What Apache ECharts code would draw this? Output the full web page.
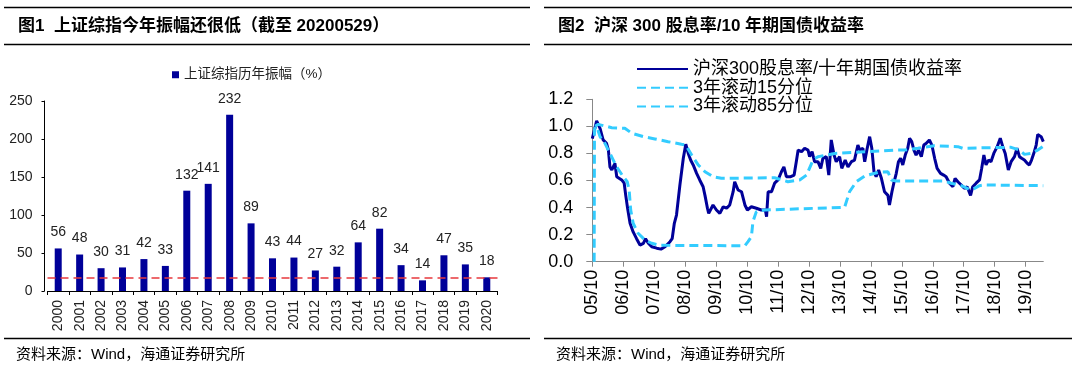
<!DOCTYPE html>
<html><head><meta charset="utf-8">
<script src="https://cdn.jsdelivr.net/npm/echarts@6/dist/echarts.min.js"></script>
<style>html,body{margin:0;padding:0;background:#fff}#c{width:1080px;height:371px}</style>
</head><body><div id="c"></div>
<script>
// ---------- Figure 1 data ----------
const barYears = ['2000','2001','2002','2003','2004','2005','2006','2007','2008','2009','2010','2011','2012','2013','2014','2015','2016','2017','2018','2019','2020'];
const barValues = [56,48,30,31,42,33,132,141,232,89,43,44,27,32,64,82,34,14,47,35,18];
const barSeriesName = '上证综指历年振幅（%）';
const currentLevel = barValues[barValues.length - 1];

// ---------- Figure 2 data (x = decimal year) ----------
const xTickLabels = ['05/10','06/10','07/10','08/10','09/10','10/10','11/10','12/10','13/10','14/10','15/10','16/10','17/10','18/10','19/10'];
const xTickValues = [2005.75,2006.75,2007.75,2008.75,2009.75,2010.75,2011.75,2012.75,2013.75,2014.75,2015.75,2016.75,2017.75,2018.75,2019.75];
const ratioName = '沪深300股息率/十年期国债收益率';
const p15Name = '3年滚动15分位';
const p85Name = '3年滚动85分位';

const ratioDates = [2005.75,2005.89,2006.00,2006.10,2006.21,2006.27,2006.32,2006.38,2006.48,2006.54,2006.59,2006.70,2006.78,2006.83,2006.89,2006.97,2007.07,2007.18,2007.29,2007.40,2007.47,2007.56,2007.67,2007.83,2007.97,2008.10,2008.26,2008.33,2008.40,2008.47,2008.58,2008.69,2008.77,2008.85,2008.93,2009.01,2009.12,2009.22,2009.33,2009.39,2009.47,2009.51,2009.65,2009.76,2009.87,2009.98,2010.09,2010.19,2010.30,2010.35,2010.46,2010.57,2010.68,2010.76,2010.89,2011.05,2011.21,2011.34,2011.38,2011.43,2011.54,2011.64,2011.75,2011.86,2011.94,2012.02,2012.16,2012.27,2012.34,2012.40,2012.51,2012.61,2012.72,2012.77,2012.85,2012.93,2013.04,2013.13,2013.20,2013.31,2013.39,2013.47,2013.56,2013.63,2013.74,2013.81,2013.92,2014.01,2014.12,2014.22,2014.33,2014.39,2014.49,2014.55,2014.62,2014.71,2014.78,2014.85,2014.92,2015.00,2015.09,2015.19,2015.30,2015.35,2015.43,2015.49,2015.57,2015.64,2015.71,2015.78,2015.86,2015.94,2016.00,2016.07,2016.14,2016.21,2016.29,2016.38,2016.46,2016.54,2016.64,2016.72,2016.81,2016.89,2017.00,2017.10,2017.18,2017.29,2017.40,2017.47,2017.56,2017.67,2017.77,2017.86,2017.97,2018.04,2018.15,2018.26,2018.33,2018.40,2018.47,2018.55,2018.63,2018.72,2018.83,2018.93,2019.01,2019.09,2019.19,2019.28,2019.39,2019.47,2019.55,2019.62,2019.71,2019.80,2019.87,2019.94,2020.03,2020.09,2020.14,2020.25,2020.32];
const ratioValues = [0.91,1.04,0.986,0.90,0.875,0.825,0.70,0.678,0.727,0.628,0.64,0.604,0.58,0.49,0.395,0.284,0.22,0.17,0.123,0.136,0.17,0.136,0.11,0.10,0.093,0.11,0.148,0.17,0.284,0.345,0.567,0.764,0.868,0.80,0.75,0.715,0.653,0.604,0.554,0.49,0.395,0.357,0.419,0.382,0.357,0.406,0.395,0.419,0.517,0.591,0.53,0.517,0.419,0.382,0.406,0.395,0.382,0.382,0.333,0.517,0.517,0.58,0.604,0.665,0.70,0.628,0.628,0.64,0.739,0.825,0.813,0.838,0.825,0.776,0.813,0.739,0.739,0.69,0.764,0.776,0.64,0.90,0.788,0.739,0.776,0.69,0.751,0.70,0.739,0.751,0.862,0.825,0.838,0.739,0.825,0.924,0.838,0.665,0.628,0.678,0.616,0.517,0.49,0.419,0.517,0.58,0.653,0.739,0.764,0.715,0.788,0.838,0.912,0.887,0.825,0.788,0.825,0.776,0.862,0.875,0.90,0.862,0.764,0.69,0.653,0.64,0.628,0.58,0.554,0.616,0.591,0.567,0.542,0.554,0.49,0.554,0.58,0.604,0.69,0.788,0.715,0.751,0.739,0.80,0.85,0.912,0.85,0.80,0.678,0.739,0.776,0.838,0.776,0.764,0.751,0.727,0.715,0.751,0.813,0.862,0.94,0.924,0.887];

const p15Dates = [2005.81,2005.82,2005.89,2006.00,2006.16,2006.32,2006.54,2006.75,2006.88,2006.94,2006.99,2007.07,2007.23,2007.45,2007.67,2007.93,2010.68,2010.78,2010.89,2010.94,2011.05,2011.32,2013.90,2014.06,2014.28,2014.55,2014.98,2015.30,2015.41,2015.57,2017.13,2017.34,2017.67,2017.93,2018.04,2018.26,2018.42,2020.32];
const p15Values = [0.0,0.98,1.0,0.924,0.875,0.80,0.70,0.628,0.591,0.53,0.382,0.284,0.21,0.16,0.136,0.121,0.118,0.148,0.185,0.296,0.37,0.382,0.402,0.517,0.591,0.633,0.66,0.665,0.604,0.596,0.596,0.58,0.562,0.535,0.535,0.562,0.567,0.562];

const p85Dates = [2005.84,2005.94,2006.00,2006.38,2006.80,2007.02,2007.40,2007.77,2008.20,2008.63,2008.77,2008.96,2009.17,2009.39,2009.65,2009.92,2010.68,2011.64,2012.07,2012.45,2012.67,2012.88,2013.04,2013.58,2014.65,2015.51,2015.84,2016.27,2016.80,2017.56,2017.72,2018.42,2019.28,2019.55,2019.71,2019.92,2020.14,2020.30];
const p85Values = [1.0,1.015,1.01,0.99,0.986,0.95,0.924,0.907,0.887,0.868,0.862,0.788,0.715,0.665,0.628,0.616,0.618,0.62,0.591,0.604,0.64,0.751,0.776,0.80,0.813,0.825,0.825,0.838,0.857,0.85,0.838,0.842,0.845,0.825,0.793,0.80,0.825,0.85];

const title1 = '图1  上证综指今年振幅还很低（截至 20200529）';
const title2 = '图2  沪深 300 股息率/10 年期国债收益率';
const sourceText = '资料来源：Wind，海通证券研究所';

// ---------- chart ----------
const FONT = '"Liberation Sans", Arial, "Noto Sans CJK SC", sans-serif';
const pairs = (xs, ys) => xs.map((x, i) => [x, ys[i]]);
const chart = echarts.init(document.getElementById('c'));

function hline(x1, x2, y) {
  return { type: 'line', shape: { x1: x1, y1: y, x2: x2, y2: y }, style: { stroke: '#000', lineWidth: 1.3 }, silent: true };
}
function txt(x, y, text, font) {
  return { type: 'text', x: x, y: y, style: { text: text, font: font, fill: '#000', verticalAlign: 'middle' }, silent: true };
}

const option = {
  animation: false,
  backgroundColor: '#fff',
  textStyle: { fontFamily: FONT },
  graphic: [
    hline(4, 530, 7.5), hline(4, 530, 44.5), hline(4, 530, 338.5),
    hline(544, 1072, 7.5), hline(544, 1072, 44.5), hline(544, 1072, 338.5),
    txt(18, 26.5, title1, 'bold 17px ' + FONT),
    txt(558, 26.5, title2, 'bold 17px ' + FONT),
    txt(16, 355, sourceText, '15px ' + FONT),
    txt(556, 355, sourceText, '15px ' + FONT)
  ],
  legend: [
    {
      data: [barSeriesName], left: 172, top: 68, padding: 0,
      icon: 'rect', itemWidth: 7, itemHeight: 7,
      textStyle: { fontSize: 13.5, color: '#222', fontFamily: FONT }
    },
    {
      data: [ratioName, p15Name, p85Name], orient: 'vertical', left: 636, top: 60, padding: 0,
      itemWidth: 51, itemHeight: 14, itemGap: 0.7,
      itemStyle: { opacity: 0 },
      textStyle: { fontSize: 18, lineHeight: 18, color: '#000', fontFamily: FONT }
    }
  ],
  grid: [
    { left: 47.5, top: 101, width: 450, height: 190, outerBoundsMode: 'none' },
    { left: 592.3, top: 99.3, width: 451, height: 162.4, outerBoundsMode: 'none' }
  ],
  xAxis: [
    {
      gridIndex: 0, type: 'category', data: barYears,
      axisLine: { lineStyle: { color: '#000', width: 1 } },
      axisTick: { show: true, length: 4, lineStyle: { color: '#000' } },
      axisLabel: { rotate: 90, interval: 0, margin: 9, fontSize: 14, color: '#222' }
    },
    {
      gridIndex: 1, type: 'value', min: 2005.75, max: 2020.32,
      splitLine: { show: false },
      axisLine: { onZero: false, lineStyle: { color: '#888', width: 1 } },
      axisTick: { show: true, length: 5, customValues: xTickValues, lineStyle: { color: '#888' } },
      axisLabel: {
        rotate: 90, margin: 8, fontSize: 18, color: '#000', customValues: xTickValues,
        formatter: v => xTickLabels[Math.round(v - xTickValues[0])]
      }
    }
  ],
  yAxis: [
    {
      gridIndex: 0, type: 'value', min: 0, max: 250, interval: 50, offset: 3,
      splitLine: { show: false },
      axisLine: { show: true, lineStyle: { color: '#000', width: 1 } },
      axisTick: { show: true, length: 3, lineStyle: { color: '#000' } },
      axisLabel: { fontSize: 14, margin: 12, color: '#222' }
    },
    {
      gridIndex: 1, type: 'value', min: 0, max: 1.2, interval: 0.2,
      splitLine: { show: false },
      axisLine: { show: true, lineStyle: { color: '#888', width: 1 } },
      axisTick: { show: true, length: 6, lineStyle: { color: '#888' } },
      axisLabel: { fontSize: 18, margin: 19, color: '#000', formatter: v => v.toFixed(1) }
    }
  ],
  series: [
    {
      name: barSeriesName, type: 'bar', xAxisIndex: 0, yAxisIndex: 0, data: barValues,
      barWidth: 7, itemStyle: { color: '#000099' },
      label: { show: true, position: 'top', distance: 9, fontSize: 14, color: '#222' },
      markLine: {
        silent: true, symbol: ['none', 'none'], label: { show: false },
        lineStyle: { color: '#e8383d', type: [8, 5], width: 1.5 },
        data: [{ yAxis: currentLevel }]
      }
    },
    {
      name: ratioName, type: 'line', xAxisIndex: 1, yAxisIndex: 1,
      data: pairs(ratioDates, ratioValues), symbol: 'none', showSymbol: false,
      lineStyle: { color: '#000099', width: 3 }, itemStyle: { color: '#000099' }
    },
    {
      name: p15Name, type: 'line', xAxisIndex: 1, yAxisIndex: 1,
      data: pairs(p15Dates, p15Values), symbol: 'none', showSymbol: false,
      lineStyle: { color: '#33CCFF', width: 3, type: [9, 5] }, itemStyle: { color: '#33CCFF' }
    },
    {
      name: p85Name, type: 'line', xAxisIndex: 1, yAxisIndex: 1,
      data: pairs(p85Dates, p85Values), symbol: 'none', showSymbol: false,
      lineStyle: { color: '#33CCFF', width: 3, type: [9, 5] }, itemStyle: { color: '#33CCFF' }
    }
  ]
};
chart.setOption(option);
</script>
</body></html>
